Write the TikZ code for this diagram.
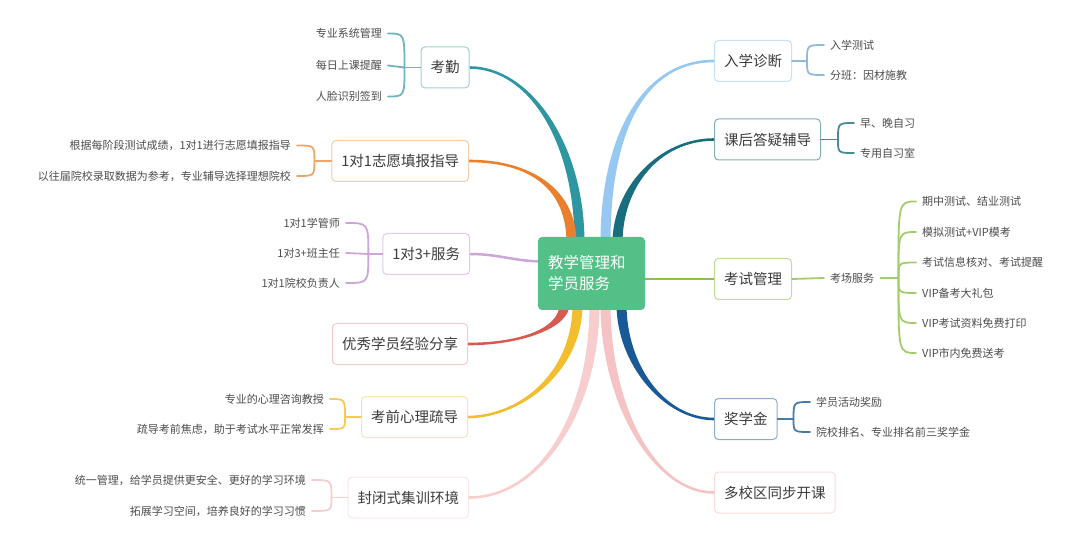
\documentclass[tikz,border=0pt]{standalone}
\usepackage{fontspec}
\newfontfamily\cjk{Noto Sans CJK SC}
\usepackage{tikz}
\usetikzlibrary{calc,backgrounds}
\definecolor{kqteal}{RGB}{45,150,160}
\definecolor{zyorange}{RGB}{232,128,45}
\definecolor{sflilac}{RGB}{205,165,215}
\definecolor{yxred}{RGB}{215,90,80}
\definecolor{xlyellow}{RGB}{242,190,45}
\definecolor{fbpink}{RGB}{248,205,205}
\definecolor{rxblue}{RGB}{150,200,242}
\definecolor{khteal}{RGB}{25,110,125}
\definecolor{ksgreen}{RGB}{140,192,70}
\definecolor{jxblue}{RGB}{25,90,150}
\definecolor{dxpink}{RGB}{245,195,195}
\definecolor{hubgreen}{RGB}{82,192,135}
\definecolor{leafgray}{RGB}{75,75,75}
\definecolor{topicgray}{RGB}{60,60,60}

% tapered branch: colour, from, to, pull at from, pull at to, end half width
\newcommand{\ribbon}[6]{%
\fill[#1] ($(#2)+(-5,0)$) .. controls ($(#2)+(#4)+(-5,0)$) and ($(#3)+(#5)+(0,#6)$) .. ($(#3)+(0,#6)$)
-- ($(#3)-(0,#6)$) .. controls ($(#3)+(#5)-(0,#6)$) and ($(#2)+(#4)+(5,0)$) .. ($(#2)+(5,0)$) -- cycle;}

\begin{document}
\begin{tikzpicture}[x=1pt,y=1pt,
hub/.style={fill=hubgreen, rounded corners=4pt, text=white, minimum width=107pt,
minimum height=73pt, text width=87pt, align=left, inner xsep=10pt,
font=\cjk\fontsize{15.5}{21}\selectfont},
topic/.style={draw, rounded corners=4pt, fill=white, line width=1pt, minimum height=41pt,
inner xsep=9.5pt, text=topicgray, font=\cjk\fontsize{14.5}{17}\selectfont},
leaf/.style={inner xsep=6pt, inner ysep=2pt, text=leafgray, font=\cjk\fontsize{11}{13}\selectfont},
twig/.style={line width=1.8pt, line cap=round}
]
\useasboundingbox (0,0) rectangle (1080,-548);

\node[hub] (ctr) at (591.5,-273.5) {教学管理和\\学员服务};

\node[topic, draw=kqteal!45, anchor=east] (kq) at (469.5,-67.5) {考勤};
\node[topic, draw=zyorange!40, anchor=east] (zy) at (469,-161) {1对1志愿填报指导};
\node[topic, draw=sflilac!60, anchor=east] (sf) at (470,-254) {1对3+服务};
\node[topic, draw=yxred!30, anchor=east] (yx) at (468,-344) {优秀学员经验分享};
\node[topic, draw=xlyellow!40, anchor=east] (xl) at (468,-417) {考前心理疏导};
\node[topic, draw=fbpink!50, anchor=east] (fb) at (469,-497.5) {封闭式集训环境};

\node[topic, draw=rxblue!55, anchor=west] (rx) at (714,-61) {入学诊断};
\node[topic, draw=khteal!55, anchor=west] (kh) at (714,-139.5) {课后答疑辅导};
\node[topic, draw=ksgreen!55, anchor=west] (ks) at (714,-279) {考试管理};
\node[topic, draw=jxblue!50, anchor=west] (jx) at (714,-419) {奖学金};
\node[topic, draw=dxpink!60, anchor=west] (dx) at (714,-492.5) {多校区同步开课};

\node[leaf, anchor=east] (kq1) at (388,-33.5) {专业系统管理};
\node[leaf, anchor=east] (kq2) at (388,-65.5) {每日上课提醒};
\node[leaf, anchor=east] (kq3) at (388,-96.5) {人脸识别签到};

\node[leaf, anchor=east] (zy1) at (297,-145.5) {根据每阶段测试成绩，1对1进行志愿填报指导};
\node[leaf, anchor=east] (zy2) at (297,-176) {以往届院校录取数据为参考，专业辅导选择理想院校};

\node[leaf, anchor=east] (sf1) at (346,-223) {1对1学管师};
\node[leaf, anchor=east] (sf2) at (346,-253) {1对3+班主任};
\node[leaf, anchor=east] (sf3) at (346,-283) {1对1院校负责人};

\node[leaf, anchor=east] (xl1) at (330,-399) {专业的心理咨询教授};
\node[leaf, anchor=east] (xl2) at (330,-429) {疏导考前焦虑，助于考试水平正常发挥};

\node[leaf, anchor=east] (fb1) at (312,-480) {统一管理，给学员提供更安全、更好的学习环境};
\node[leaf, anchor=east] (fb2) at (312,-511) {拓展学习空间，培养良好的学习习惯};

\node[leaf, anchor=west] (rx1) at (824,-45) {入学测试};
\node[leaf, anchor=west] (rx2) at (824,-75) {分班：因材施教};

\node[leaf, anchor=west] (kh1) at (854,-123) {早、晚自习};
\node[leaf, anchor=west] (kh2) at (854,-153) {专用自习室};

\node[leaf, anchor=west] (kc) at (824,-278) {考场服务};
\node[leaf, anchor=west] (ks1) at (916,-201.5) {期中测试、结业测试};
\node[leaf, anchor=west] (ks2) at (916,-232) {模拟测试+VIP模考};
\node[leaf, anchor=west] (ks3) at (916,-262.5) {考试信息核对、考试提醒};
\node[leaf, anchor=west] (ks4) at (916,-293) {VIP备考大礼包};
\node[leaf, anchor=west] (ks5) at (916,-323) {VIP考试资料免费打印};
\node[leaf, anchor=west] (ks6) at (916,-353) {VIP市内免费送考};

\node[leaf, anchor=west] (jx1) at (810,-402) {学员活动奖励};
\node[leaf, anchor=west] (jx2) at (810,-432) {院校排名、专业排名前三奖学金};

\coordinate (kqj) at ($(kq.west)+(-16,0)$);
\draw[twig, kqteal!70] (kq.west) -- (kqj);
\draw[twig, kqteal!70] (kqj) .. controls (kqj |- kq1.east) .. (kq1.east);
\draw[twig, kqteal!70] (kqj) -- (kq2.east);
\draw[twig, kqteal!70] (kqj) .. controls (kqj |- kq3.east) .. (kq3.east);

\coordinate (zyj) at ($(zy.west)+(-17,0)$);
\draw[twig, zyorange!70] (zy.west) -- (zyj);
\draw[twig, zyorange!70] (zyj) .. controls (zyj |- zy1.east) .. (zy1.east);
\draw[twig, zyorange!70] (zyj) .. controls (zyj |- zy2.east) .. (zy2.east);

\coordinate (sfj) at ($(sf.west)+(-14,0)$);
\draw[twig, sflilac] (sf.west) -- (sfj);
\draw[twig, sflilac] (sfj) .. controls (sfj |- sf1.east) .. (sf1.east);
\draw[twig, sflilac] (sfj) -- (sf2.east);
\draw[twig, sflilac] (sfj) .. controls (sfj |- sf3.east) .. (sf3.east);

\coordinate (xlj) at ($(xl.west)+(-16,0)$);
\draw[twig, xlyellow!80] (xl.west) -- (xlj);
\draw[twig, xlyellow!80] (xlj) .. controls (xlj |- xl1.east) .. (xl1.east);
\draw[twig, xlyellow!80] (xlj) .. controls (xlj |- xl2.east) .. (xl2.east);

\coordinate (fbj) at ($(fb.west)+(-16,0)$);
\draw[twig, fbpink] (fb.west) -- (fbj);
\draw[twig, fbpink] (fbj) .. controls (fbj |- fb1.east) .. (fb1.east);
\draw[twig, fbpink] (fbj) .. controls (fbj |- fb2.east) .. (fb2.east);

\coordinate (rxj) at ($(rx.east)+(15,0)$);
\draw[twig, rxblue!80!gray] (rx.east) -- (rxj);
\draw[twig, rxblue!80!gray] (rxj) .. controls (rxj |- rx1.west) .. (rx1.west);
\draw[twig, rxblue!80!gray] (rxj) .. controls (rxj |- rx2.west) .. (rx2.west);

\coordinate (khj) at ($(kh.east)+(17,0)$);
\draw[twig, khteal!80] (kh.east) -- (khj);
\draw[twig, khteal!80] (khj) .. controls (khj |- kh1.west) .. (kh1.west);
\draw[twig, khteal!80] (khj) .. controls (khj |- kh2.west) .. (kh2.west);

\coordinate (kcj) at ($(kc.east)+(18,0)$);
\draw[twig, ksgreen!80] (ks.east) -- (kc.west);
\draw[twig, ksgreen!80] (kc.east) -- (kcj);
\draw[twig, ksgreen!80] (kcj) .. controls (kcj |- ks1.west) .. (ks1.west);
\draw[twig, ksgreen!80] (kcj) .. controls (kcj |- ks2.west) .. (ks2.west);
\draw[twig, ksgreen!80] (kcj) .. controls (kcj |- ks3.west) .. (ks3.west);
\draw[twig, ksgreen!80] (kcj) .. controls (kcj |- ks4.west) .. (ks4.west);
\draw[twig, ksgreen!80] (kcj) .. controls (kcj |- ks5.west) .. (ks5.west);
\draw[twig, ksgreen!80] (kcj) .. controls (kcj |- ks6.west) .. (ks6.west);

\coordinate (jxj) at ($(jx.east)+(16,0)$);
\draw[twig, jxblue!80] (jx.east) -- (jxj);
\draw[twig, jxblue!80] (jxj) .. controls (jxj |- jx1.west) .. (jx1.west);
\draw[twig, jxblue!80] (jxj) .. controls (jxj |- jx2.west) .. (jx2.west);

\begin{scope}[on background layer]
\coordinate (s1) at ($(ctr.north)+(-12,-6)$);
\coordinate (s2) at ($(ctr.north)+(-20,-6)$);
\coordinate (s3) at ($(ctr.south)+(-27,6)$);
\coordinate (s4) at ($(ctr.south)+(-14,6)$);
\coordinate (s5) at ($(ctr.south)+(3,6)$);
\coordinate (s6) at ($(ctr.north)+(14,-6)$);
\coordinate (s7) at ($(ctr.north)+(26,-6)$);
\coordinate (s8) at ($(ctr.south)+(30,6)$);
\coordinate (s9) at ($(ctr.south)+(14,6)$);
\ribbon{kqteal}{s1}{kq.east}{0,100}{60,0}{-1.3}
\ribbon{zyorange}{s2}{zy.east}{0,55}{60,0}{-1.3}
\ribbon{yxred}{s3}{yx.east}{0,-25}{50,0}{1.3}
\ribbon{xlyellow}{s4}{xl.east}{0,-70}{50,0}{1.3}
\ribbon{fbpink}{s5}{fb.east}{0,-110}{70,0}{1.3}
\ribbon{rxblue}{s6}{rx.west}{0,110}{-70,0}{1.3}
\ribbon{khteal}{s7}{kh.west}{0,55}{-55,0}{1.3}
\ribbon{jxblue}{s8}{jx.west}{0,-60}{-50,0}{-1.3}
\ribbon{dxpink}{s9}{dx.west}{0,-100}{-60,0}{-1.3}
\draw[line width=2.5pt, sflilac] ($(ctr.west)+(6,12)$) to[out=180,in=0] (sf.east);
\draw[line width=2.5pt, ksgreen] (ks.west -| ctr.east) -- (ks.west);
\end{scope}

\end{tikzpicture}
\end{document}
